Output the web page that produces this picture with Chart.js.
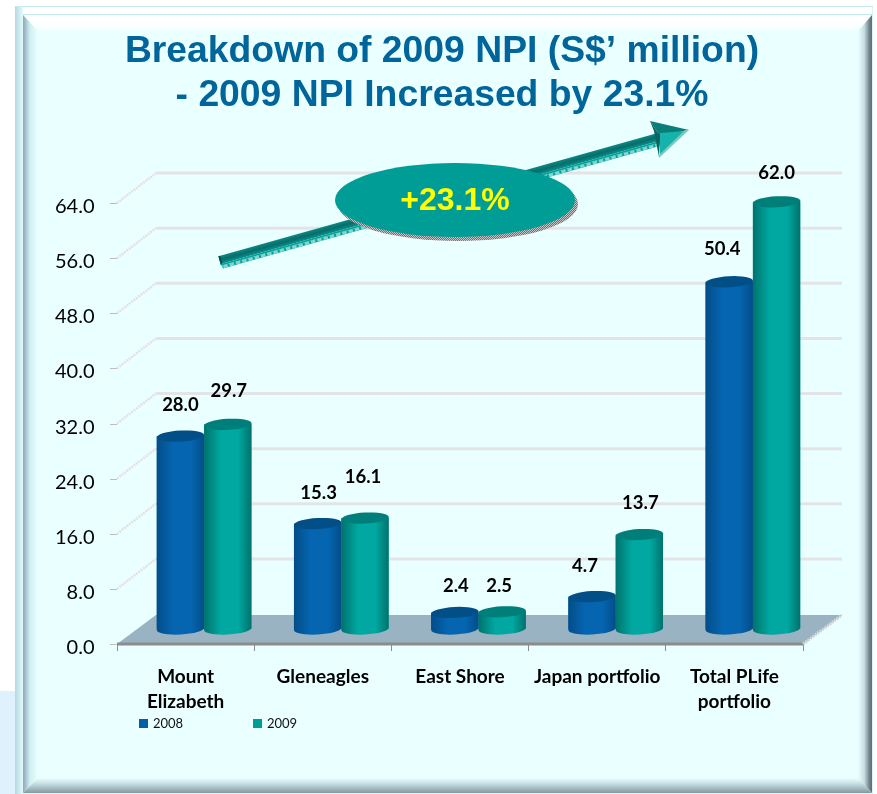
<!DOCTYPE html>
<html><head><meta charset="utf-8">
<style>html,body{margin:0;padding:0;background:#fff}#wrap{width:877px;height:794px;position:relative}canvas{display:block}</style>
<script src="https://cdn.jsdelivr.net/npm/chart.js@4"></script>
</head><body><div id="wrap"><canvas id="c" width="877" height="794"></canvas></div>
<script>
const categories = [["Mount","Elizabeth"],"Gleneagles","East Shore","Japan portfolio",["Total PLife","portfolio"]];
const series2008 = [28.0,15.3,2.4,4.7,50.4];
const series2009 = [29.7,16.1,2.5,13.7,62.0];
const seriesNames = ["2008","2009"];
const titleLines = ["Breakdown of 2009 NPI (S$\u2019 million)","- 2009 NPI Increased by 23.1%"];
const badgeText = "+23.1%";
const tickStep = 8, axisMax = 64;

// depth of the pseudo-3D box
const DEPTH = {x:39,y:-30};
const BLUE="#035ea3", TEAL="#009c96";
const shades = {
  [BLUE]:{edge:"#034d88",mid:"#0565b0",cap:"#024f88"},
  [TEAL]:{edge:"#00726d",mid:"#00a8a1",cap:"#007f7a"}
};
// how far above a cylinder top each value label sits
const labelLift = [[31,31,26,31,33],[33,41,26,32,29]];
const labelShift = [[-1,0,0,-8,-8],[0,-3,-4,0,-1]];

function frame(ctx){
  const W=877,H=794;
  ctx.fillStyle="#fff";ctx.fillRect(0,0,W,H);
  ctx.fillStyle="#dff1fc";ctx.fillRect(0,691,15,103);
  ctx.fillStyle="#dcf6f8";ctx.fillRect(15,6,858,788);
  ctx.fillStyle="#ffffff";ctx.fillRect(16,7,856,7);
  let g=ctx.createLinearGradient(15,0,23,0);g.addColorStop(0,"#b5d8e2");g.addColorStop(1,"#e4fbfc");
  ctx.fillStyle=g;ctx.fillRect(15,7,8,787);
  ctx.fillStyle="#c6eaec";ctx.fillRect(15,6,858,1);ctx.fillRect(23,14,850,1);
  ctx.fillStyle="#eaffff";ctx.fillRect(23,15,849,778);
  ctx.save();ctx.beginPath();ctx.moveTo(23,15);ctx.lineTo(872,15);ctx.lineTo(858,31);ctx.lineTo(38,31);ctx.closePath();ctx.clip();
  g=ctx.createLinearGradient(0,15,0,31);g.addColorStop(0,"#ffffff");g.addColorStop(.75,"#fcffff");g.addColorStop(1,"#eaffff");
  ctx.fillStyle=g;ctx.fillRect(23,15,849,16);ctx.restore();
  ctx.save();ctx.beginPath();ctx.moveTo(23,15);ctx.lineTo(38,31);ctx.lineTo(38,778);ctx.lineTo(23,793);ctx.closePath();ctx.clip();
  g=ctx.createLinearGradient(23,0,38,0);g.addColorStop(0,"#8fa9b4");g.addColorStop(.2,"#a9c6cf");g.addColorStop(.45,"#cfeef2");g.addColorStop(1,"#eaffff");
  ctx.fillStyle=g;ctx.fillRect(23,15,15,778);ctx.restore();
  ctx.save();ctx.beginPath();ctx.moveTo(872,15);ctx.lineTo(858,31);ctx.lineTo(858,778);ctx.lineTo(872,793);ctx.closePath();ctx.clip();
  g=ctx.createLinearGradient(858,0,872,0);g.addColorStop(0,"#eaffff");g.addColorStop(.45,"#c5dde3");g.addColorStop(.8,"#75858e");g.addColorStop(1,"#5c6b73");
  ctx.fillStyle=g;ctx.fillRect(858,15,14,778);ctx.restore();
  ctx.save();ctx.beginPath();ctx.moveTo(23,793);ctx.lineTo(38,778);ctx.lineTo(858,778);ctx.lineTo(872,793);ctx.closePath();ctx.clip();
  g=ctx.createLinearGradient(0,778,0,793);g.addColorStop(0,"#eaffff");g.addColorStop(.4,"#c4dde2");g.addColorStop(1,"#84989f");
  ctx.fillStyle=g;ctx.fillRect(23,778,849,15);ctx.restore();
}

function box(chart){
  const {ctx,chartArea:a,scales:{y}}=chart;
  y.ticks.forEach(t=>{
    if(t.value===0) return;
    const py=y.getPixelForValue(t.value);
    ctx.strokeStyle="#e4e4e6";ctx.lineWidth=3;
    ctx.beginPath();ctx.moveTo(a.left+DEPTH.x,py+DEPTH.y);ctx.lineTo(a.right+DEPTH.x,py+DEPTH.y);ctx.stroke();
    ctx.lineWidth=2.5;ctx.setLineDash([2,1]);ctx.strokeStyle="#e6e0e0";
    ctx.beginPath();ctx.moveTo(a.left,py);ctx.lineTo(a.left+DEPTH.x,py+DEPTH.y);ctx.stroke();
    ctx.setLineDash([]);
  });
  const by=y.getPixelForValue(0);
  ctx.fillStyle="#9ab3c2";ctx.beginPath();
  ctx.moveTo(a.left,by);ctx.lineTo(a.right,by);ctx.lineTo(a.right+DEPTH.x,by+DEPTH.y+1);ctx.lineTo(a.left+DEPTH.x,by+DEPTH.y+1);ctx.closePath();ctx.fill();
  ctx.strokeStyle="#8c8c8c";ctx.lineWidth=3;ctx.beginPath();ctx.moveTo(a.left,by);ctx.lineTo(a.right,by);ctx.stroke();
  ctx.strokeStyle="#cfd2d2";ctx.lineWidth=3;ctx.setLineDash([2,1]);
  ctx.beginPath();ctx.moveTo(a.right,by);ctx.lineTo(a.right+DEPTH.x,by+DEPTH.y+1);ctx.stroke();ctx.setLineDash([]);
  ctx.strokeStyle="#bdbdbd";ctx.lineWidth=1;
  ctx.fillStyle="#000";ctx.font='20px Lato';ctx.textAlign="right";ctx.textBaseline="middle";
  y.ticks.forEach(t=>{
    const py=Math.round(y.getPixelForValue(t.value))+.5;
    ctx.beginPath();ctx.moveTo(a.left-7,py);ctx.lineTo(a.left,py);ctx.stroke();
    ctx.fillText(t.label,94.5,py+3);
  });
}

function cylinder(ctx,bar,c){
  const w=bar.width,x=bar.x-w/2,rx=w/2,ry=5.5,tilt=-0.055;
  const top=bar.y,base=bar.base;
  let g=ctx.createLinearGradient(x,0,x+w,0);
  g.addColorStop(0,c.edge);g.addColorStop(.35,c.mid);g.addColorStop(.72,c.mid);g.addColorStop(1,c.edge);
  ctx.fillStyle=g;
  ctx.beginPath();
  ctx.moveTo(x,top+1.3);
  ctx.lineTo(x,base+1.3);
  ctx.ellipse(bar.x,base,rx,ry,tilt,Math.PI,0,true);
  ctx.lineTo(x+w,top-1.3);
  ctx.closePath();ctx.fill();
  ctx.fillStyle=c.cap;
  ctx.beginPath();ctx.ellipse(bar.x,top,rx,ry,tilt,0,Math.PI*2);ctx.fill();
}

function hatch(ctx,a,b){
  const p=document.createElement("canvas");p.width=p.height=2;
  const q=p.getContext("2d");q.fillStyle=a;q.fillRect(0,0,2,2);q.fillStyle=b;q.fillRect(0,0,1,1);q.fillRect(1,1,1,1);
  return ctx.createPattern(p,"repeat");
}

const cylinders={
  id:"cylinders",
  beforeDraw(chart){frame(chart.ctx);},
  beforeDatasetsDraw(chart){
    box(chart);
    chart.ctx.save();chart.ctx.translate(DEPTH.x/2-1,DEPTH.y/2);
  },
  afterDatasetsDraw(chart){
    const ctx=chart.ctx;
    chart.data.datasets.forEach((ds,i)=>{
      chart.getDatasetMeta(i).data.forEach(b=>cylinder(ctx,b,shades[ds.backgroundColor]));
    });
    ctx.restore();
    ctx.fillStyle="#000";ctx.font='bold 18.5px Lato';ctx.textAlign="center";ctx.textBaseline="middle";
    chart.data.datasets.forEach((ds,i)=>{
      chart.getDatasetMeta(i).data.forEach((b,j)=>{
        ctx.fillText(ds.data[j].toFixed(1),b.x+DEPTH.x/2+labelShift[i][j],b.y+DEPTH.y/2-labelLift[i][j]);
      });
    });
    arrow(ctx);badge(ctx);legend(chart);
  }
};

function arrow(ctx){
  const x0=220,y0=262,x1=662,y1=138;
  const dx=x1-x0,dy=y1-y0,L=Math.hypot(dx,dy),a=Math.atan2(dy,dx);
  ctx.save();ctx.translate(x0,y0);ctx.rotate(a);
  const g=ctx.createLinearGradient(0,-6,0,2);g.addColorStop(0,"#0b8a85");g.addColorStop(.5,"#086c69");g.addColorStop(1,"#0b8f89");
  ctx.fillStyle=g;ctx.fillRect(0,-6,L,8);
  ctx.fillStyle="#06514f";ctx.fillRect(0,-6,2,9);
  ctx.fillStyle="#00a39c";ctx.fillRect(0,2,L,2);
  ctx.fillStyle="#00a39c";ctx.fillRect(1,4,L-1,3);
  ctx.fillStyle="#86d4cf";for(let i=2;i<L-3;i+=6.5)ctx.fillRect(i,4,4.5,3);
  ctx.restore();
  ctx.save();
  ctx.fillStyle="#0a7d79";ctx.beginPath();ctx.moveTo(650,121);ctx.lineTo(689,130);ctx.lineTo(660,136);ctx.closePath();ctx.fill();
  ctx.fillStyle="#0c6462";ctx.beginPath();ctx.moveTo(650,121);ctx.lineTo(660,136);ctx.lineTo(659,157);ctx.lineTo(654,131);ctx.closePath();ctx.fill();
  ctx.fillStyle="#14b3ab";ctx.beginPath();ctx.moveTo(660,133);ctx.lineTo(686,131);ctx.lineTo(660,155);ctx.closePath();ctx.fill();
  ctx.fillStyle="#7cc9c4";ctx.beginPath();ctx.moveTo(689,130);ctx.lineTo(685,130);ctx.lineTo(659,155);ctx.lineTo(659,158);ctx.closePath();ctx.fill();
  ctx.restore();
}

function badge(ctx){
  const x=455,y=200,rx=120,ry=37;
  ctx.save();
  ctx.fillStyle=hatch(ctx,"#6f6f6f","#c4c4c4");ctx.beginPath();ctx.ellipse(x+3,y+4,rx,ry,0,0,Math.PI*2);ctx.fill();
  ctx.fillStyle="#009c96";ctx.beginPath();ctx.ellipse(x,y,rx,ry,0,0,Math.PI*2);ctx.fill();
  ctx.fillStyle="#ffff00";ctx.font='bold 32px "Liberation Sans"';ctx.textAlign="center";ctx.textBaseline="middle";
  ctx.fillText(badgeText,x,y+1);
  ctx.restore();
}

function legend(chart){
  const ctx=chart.ctx,xs=[139,253];
  ctx.save();ctx.font='13px Lato';ctx.textAlign="left";ctx.textBaseline="middle";
  chart.data.datasets.forEach((ds,i)=>{
    ctx.fillStyle=ds.backgroundColor;ctx.fillRect(xs[i],719,9,9);
    ctx.fillStyle="#111";ctx.fillText(ds.label,xs[i]+14,724);
  });
  ctx.restore();
}

new Chart(document.getElementById("c"),{
  type:"bar",
  data:{labels:categories,datasets:[
    {label:seriesNames[0],data:series2008,backgroundColor:BLUE,clip:false},
    {label:seriesNames[1],data:series2009,backgroundColor:TEAL,clip:false}
  ]},
  plugins:[cylinders],
  options:{
    responsive:false,animation:false,
    layout:{padding:{left:81,right:74,top:0,bottom:0}},
    datasets:{bar:{categoryPercentage:0.69,barPercentage:1}},
    plugins:{
      legend:{display:false},tooltip:{enabled:false},
      title:{display:true,text:titleLines,color:"#00659b",font:{family:'"Liberation Sans"',size:37.3,weight:"bold",lineHeight:1.18},padding:{top:30,bottom:85}}
    },
    scales:{
      x:{
        afterFit(s){s.height=150;},
        border:{display:false},
        grid:{drawOnChartArea:false,drawTicks:true,tickLength:7,color:"#8c8c8c"},
        ticks:{color:"#000",font:{family:"Lato",size:19,weight:"bold",lineHeight:1.32},padding:13,maxRotation:0,autoSkip:false}
      },
      y:{
        min:0,max:axisMax,
        afterFit(s){s.width=36;},
        border:{display:false},
        grid:{display:false},
        ticks:{stepSize:tickStep,display:false,callback:v=>v.toFixed(1)}
      }
    }
  }
});
</script></body></html>
